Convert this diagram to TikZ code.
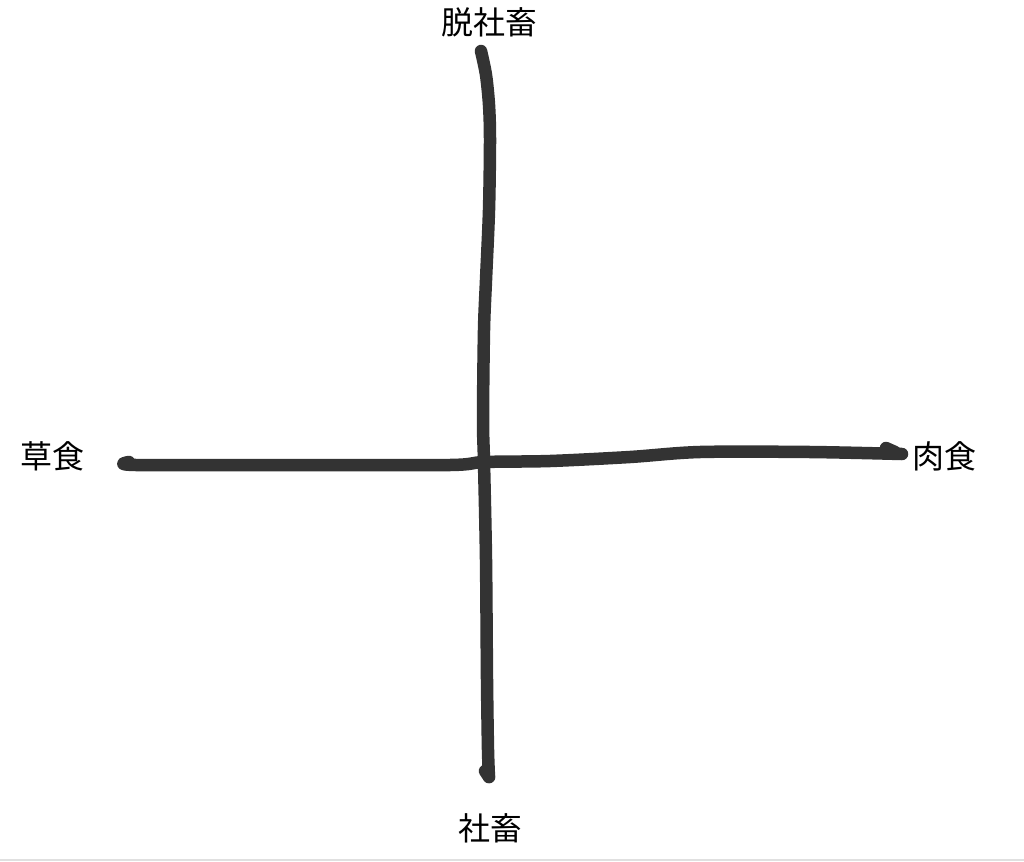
\documentclass[tikz,border=0pt]{standalone}
\usepackage{fontspec}
\setmainfont{Noto Sans CJK JP}
\begin{document}
\begin{tikzpicture}[
  x=1pt, y=-1pt,
  axislabel/.style={font=\fontsize{32}{34}\selectfont, inner sep=0pt},
  stroke/.style={line width=12.5pt, color=black!80, line cap=round, line join=round}
]
\useasboundingbox (0,0) rectangle (1024,861);
\fill[white] (0,0) rectangle (1024,861);
\draw[black!12, line width=2pt] (0,860) -- (1024,860);

% --- Labels ---
\node[axislabel] (top) at (489,22) {脱社畜};
\node[axislabel] (bottom) at (490,828) {社畜};
\node[axislabel] (left) at (52,456) {草食};
\node[axislabel] (right) at (944,456) {肉食};

% --- Axis ends ---
\coordinate (topend) at (481,51);
\coordinate (bottomend) at (489,777);
\coordinate (leftend) at (129,462);
\coordinate (rightend) at (902,454);

% --- Vertical axis ---
\draw[stroke] plot[smooth, tension=0.5] coordinates {
  (topend) (486,75) (489,105) (490,140) (489,210) (486,280)
  (484,330) (483,420) (484,462) (486,560) (487,680) (488,750) (bottomend)};
\draw[stroke] (489,777) -- (485,771);

% --- Horizontal axis ---
\draw[stroke] plot[smooth, tension=0.5] coordinates {
  (leftend) (136,465) (300,465) (450,465) (484,462) (550,461)
  (630,457) (700,452) (810,452) (rightend)};
\draw[stroke] (886,448) -- (895,452);

\end{tikzpicture}
\end{document}
